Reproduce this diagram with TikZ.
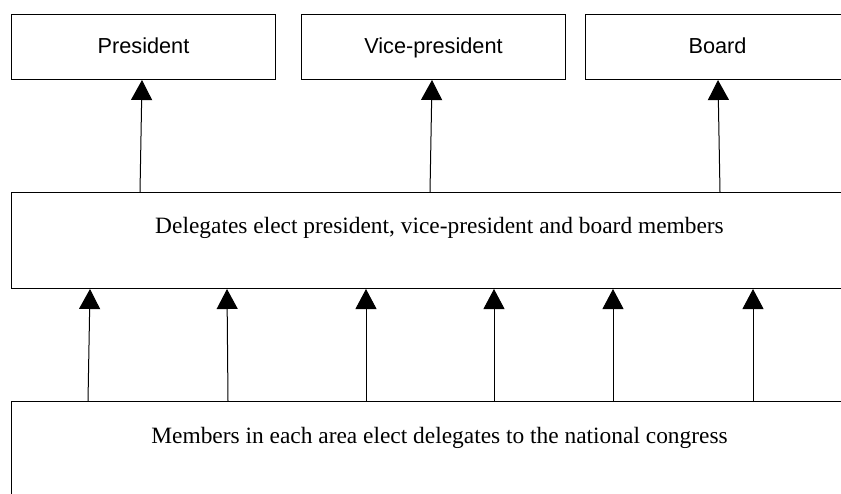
\documentclass[tikz,border=0pt]{standalone}
\usepackage{fontspec}
\setmainfont{Liberation Serif}
\newfontfamily\headfont{Liberation Sans}
\usetikzlibrary{arrows.meta}

\tikzset{
  office/.style={draw=black, line width=1pt, inner sep=0pt, anchor=north west,
    minimum width=264pt, text height=39pt, text depth=26pt,
    font=\headfont\fontsize{21.7}{26}\selectfont},
  stage/.style={draw=black, line width=1pt, inner sep=0pt, anchor=north west,
    minimum width=856pt, font=\fontsize{23.4}{28}\selectfont},
  vote/.style={line width=1pt, -{Triangle[length=20pt,width=21pt]}}
}

\begin{document}
\begin{tikzpicture}[x=1pt, y=-1pt]
  \useasboundingbox (0,0) rectangle (841,493);
  \clip (0,0) rectangle (841,493);
  \fill[white] (0,0) rectangle (841,493);

  % elected offices
  \node[office] (pres)  at (11,14)  {President};
  \node[office] (vice)  at (301,14) {Vice-president};
  \node[office] (board) at (585,14) {Board};

  % the two electing bodies
  \node[stage, text height=41pt, text depth=55pt] (congress) at (11,192)
    {Delegates elect president, vice-president and board members};
  \node[stage, text height=42pt, text depth=80pt] (areas) at (11,401)
    {Members in each area elect delegates to the national congress};

  % delegates elect the offices
  \draw[vote] ([xshift=129pt]congress.north west) -- ([xshift=131pt]pres.south west);
  \draw[vote] ([xshift=419pt]congress.north west) -- ([xshift=131pt]vice.south west);
  \draw[vote] ([xshift=709pt]congress.north west) -- ([xshift=133pt]board.south west);

  % members elect the delegates
  \draw[vote] ([xshift=77pt]areas.north west)  -- ([xshift=79pt]congress.south west);
  \draw[vote] ([xshift=217pt]areas.north west) -- ([xshift=216pt]congress.south west);
  \draw[vote] ([xshift=355pt]areas.north west) -- ([xshift=355pt]congress.south west);
  \draw[vote] ([xshift=483pt]areas.north west) -- ([xshift=483pt]congress.south west);
  \draw[vote] ([xshift=602pt]areas.north west) -- ([xshift=602pt]congress.south west);
  \draw[vote] ([xshift=742pt]areas.north west) -- ([xshift=742pt]congress.south west);
\end{tikzpicture}
\end{document}
